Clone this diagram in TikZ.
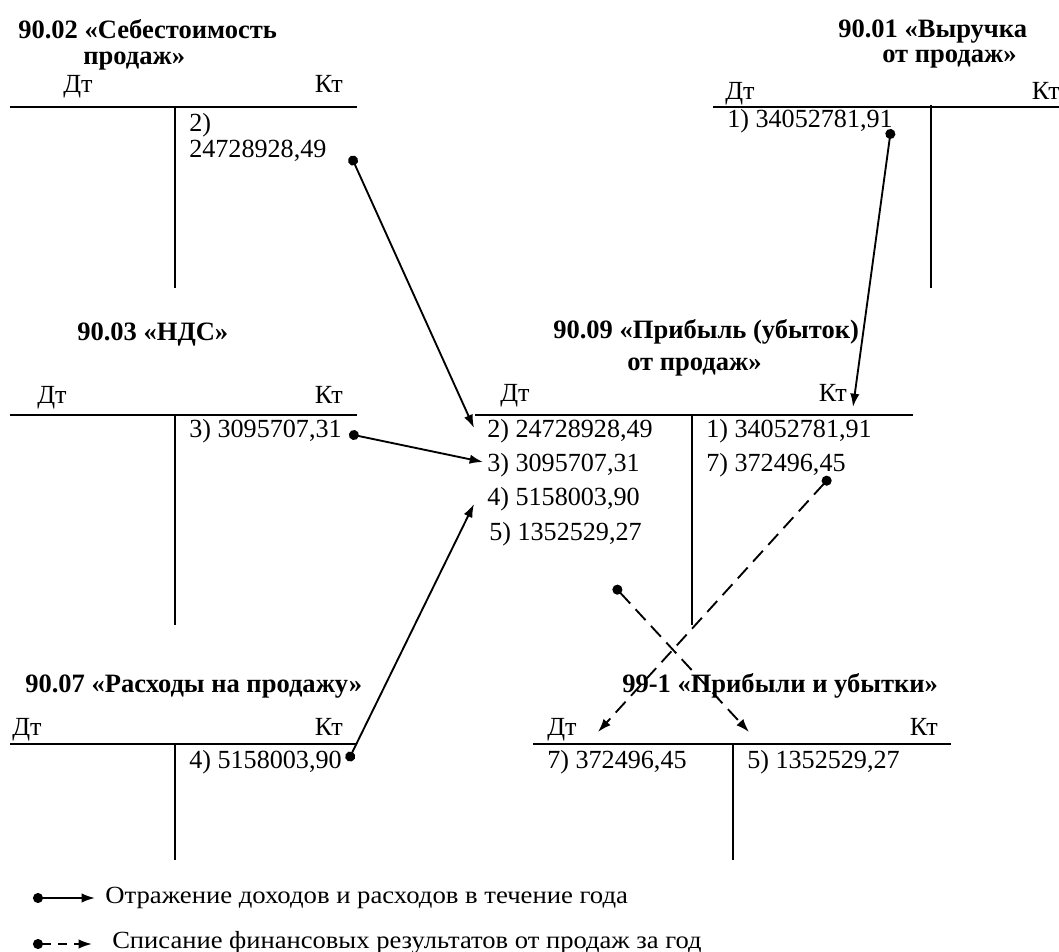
\documentclass[tikz,border=0pt]{standalone}
\usepackage{fontspec}
\usepackage{graphicx}
\setmainfont{Liberation Serif}
\usetikzlibrary{arrows.meta}
\begin{document}
\begin{tikzpicture}[x=0.75pt,y=-0.75pt,
  txt/.style={inner sep=0pt,font=\fontsize{19.6}{22}\selectfont},
  ttl/.style={inner sep=0pt,anchor=base west,font=\fontsize{19.9}{22}\selectfont\bfseries},
  tline/.style={line width=1.5pt},
  flow/.style={line width=1.4pt,{Circle[length=7.5pt]}-{Latex[length=10pt,width=7pt]}},
  wo/.style={flow,dash pattern=on 11pt off 6pt},
  lgwo/.style={flow,dash pattern=on 7pt off 5pt},
  lg/.style={inner sep=0pt,anchor=base west,font=\fontsize{18.5}{20}\selectfont}]
\useasboundingbox (0,0) rectangle (1059,952);

% 90.02
\node[ttl] (t902a) at (18,39) {90.02 «Себестоимость};
\node[ttl] (t902b) at (83,65) {продаж»};
\node[txt,anchor=base west] (d902) at (63,93) {Дт};
\node[txt,anchor=base east] (k902) at (343,93) {Кт};
\draw[tline] (10,107) -- (357,107);
\draw[tline] (175,107) -- (175,288);
\node[txt,anchor=base west] (e902a) at (189,132) {2)};
\node[txt,anchor=base west] (e902b) at (189,158) {24728928,49};
\coordinate (s2) at (351,156);

% 90.01
\node[ttl] (t901a) at (838,38) {90.01 «Выручка};
\node[ttl] (t901b) at (882,63) {от продаж»};
\node[txt,anchor=base west] (d901) at (725,100) {Дт};
\node[txt,anchor=base east] (k901) at (1060,100) {Кт};
\draw[tline] (713,107) -- (1059,107);
\draw[tline] (931,105) -- (931,288);
\node[txt,anchor=base west] (e901) at (727,128) {1) 34052781,91};
\coordinate (s1) at (891,129);

% 90.03
\node[ttl] (t903) at (77,340) {90.03 «НДС»};
\node[txt,anchor=base west] (d903) at (37,403) {Дт};
\node[txt,anchor=base east] (k903) at (343,403) {Кт};
\draw[tline] (10,415) -- (357,415);
\draw[tline] (175,415) -- (175,625);
\node[txt,anchor=base west] (e903) at (189,437) {3) 3095707,31};
\coordinate (s3) at (349,434);

% 90.09
\node[ttl] (t909a) at (553,338) {90.09 «Прибыль (убыток)};
\node[ttl] (t909b) at (627,370) {от продаж»};
\node[txt,anchor=base west] (d909) at (500,401) {Дт};
\node[txt,anchor=base east] (k909) at (847,401) {Кт};
\draw[tline] (475,415) -- (913,415);
\draw[tline] (692,415) -- (692,625);
\node[txt,anchor=base west] (e909a) at (487,437) {2) 24728928,49};
\node[txt,anchor=base west] (e909b) at (487,471) {3) 3095707,31};
\node[txt,anchor=base west] (e909c) at (487,505) {4) 5158003,90};
\node[txt,anchor=base west] (e909d) at (489,540) {5) 1352529,27};
\node[txt,anchor=base west] (e909e) at (706,437) {1) 34052781,91};
\node[txt,anchor=base west] (e909f) at (706,471) {7) 372496,45};
\coordinate (h2) at (474,428);
\coordinate (h3) at (483,462);
\coordinate (h4) at (474,504);
\coordinate (h1) at (853,407);
\coordinate (s7) at (830,477);
\coordinate (s5) at (614,586);

% 90.07
\node[ttl] (t907) at (25,692) {90.07 «Расходы на продажу»};
\node[txt,anchor=base west] (d907) at (12,735) {Дт};
\node[txt,anchor=base east] (k907) at (343,735) {Кт};
\draw[tline] (10,744) -- (357,744);
\draw[tline] (175,744) -- (175,860);
\node[txt,anchor=base west] (e907) at (189,768) {4) 5158003,90};
\coordinate (s4) at (348,761);

% 99-1
\node[ttl] (t991) at (622,692) {99-1 «Прибыли и убытки»};
\node[txt,anchor=base west] (d991) at (547,735) {Дт};
\node[txt,anchor=base east] (k991) at (938,735) {Кт};
\draw[tline] (533,744) -- (951,744);
\draw[tline] (733,744) -- (733,860);
\node[txt,anchor=base west] (e991a) at (547,768) {7) 372496,45};
\node[txt,anchor=base west] (e991b) at (747,768) {5) 1352529,27};
\coordinate (h7) at (598,732);
\coordinate (h5) at (749,732);

% connectors
\draw[flow] (s2) -- (h2);
\draw[flow] (s3) -- (h3);
\draw[flow] (s4) -- (h4);
\draw[flow] (s1) -- (h1);
\draw[wo] (s7) -- (h7);
\draw[wo] (s5) -- (h5);

% legend
\coordinate (l1a) at (33,898);
\coordinate (l1b) at (95,898);
\draw[flow] (l1a) -- (l1b);
\node[lg] (lt1) at (105,903) {\resizebox{392pt}{\height}{Отражение доходов и расходов в течение года}};
\coordinate (l2a) at (33,944);
\coordinate (l2b) at (92,944);
\draw[lgwo] (l2a) -- (l2b);
\node[lg] (lt2) at (112,948) {\resizebox{442pt}{\height}{Списание финансовых результатов от продаж за год}};
\end{tikzpicture}
\end{document}
